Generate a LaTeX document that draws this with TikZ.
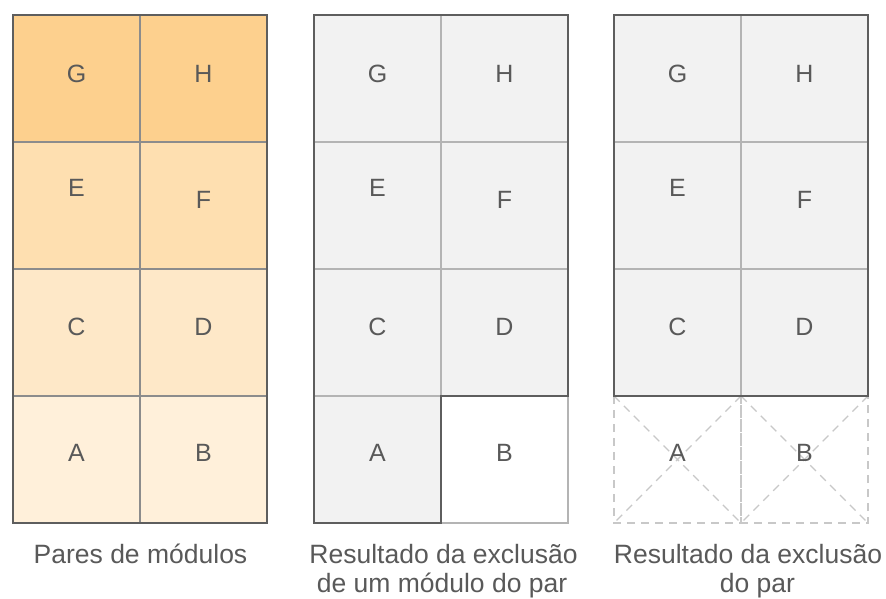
\documentclass[tikz,border=0pt]{standalone}
\usepackage{fontspec}
\setmainfont{Liberation Sans}
\definecolor{txt}{HTML}{595959}
\definecolor{outer}{HTML}{5E5E5E}
\definecolor{innerL}{HTML}{8C8C8C}
\definecolor{innerG}{HTML}{B4B4B4}
\definecolor{cellgray}{HTML}{F2F2F2}
\definecolor{dashg}{HTML}{C8C8C8}
\definecolor{oA}{HTML}{FDD08E}
\definecolor{oB}{HTML}{FEDFB0}
\definecolor{oC}{HTML}{FEE8C8}
\definecolor{oD}{HTML}{FFF0DA}
\tikzset{
  lbl/.style={inner sep=0pt, text=txt, font=\fontsize{25}{29}\selectfont},
  captxt/.style={inner sep=0pt, anchor=base, text=txt, font=\fontsize{26.5}{30}\selectfont},
  outerline/.style={draw=outer, line width=2pt, line join=miter},
  innerline/.style={draw=innerL, line width=1.5pt},
  grayline/.style={draw=innerG, line width=1.3pt},
  dashline/.style={draw=dashg, line width=1.2pt, dash pattern=on 8pt off 6pt}
}
\begin{document}
\begin{tikzpicture}[x=1pt,y=-1pt]
\useasboundingbox (0,0) rectangle (886,598);
\fill[white] (0,0) rectangle (886,598);
% ---------- left block ----------
\fill[oA] (13,15) rectangle (267,142);
\fill[oB] (13,142) rectangle (267,269);
\fill[oC] (13,269) rectangle (267,396);
\fill[oD] (13,396) rectangle (267,523);
\draw[innerline] (140,15) -- (140,523);
\draw[innerline] (13,142) -- (267,142);
\draw[innerline] (13,269) -- (267,269);
\draw[innerline] (13,396) -- (267,396);
\draw[outerline] (13,15) rectangle (267,523);
\node[lbl] (lG) at (76.5,74) {G};
\node[lbl] (lH) at (203.5,74) {H};
\node[lbl] (lE) at (76.5,188) {E};
\node[lbl] (lF) at (203.5,200) {F};
\node[lbl] (lC) at (76.5,327) {C};
\node[lbl] (lD) at (203.5,327) {D};
\node[lbl] (lA) at (76.5,453) {A};
\node[lbl] (lB) at (203.5,453) {B};
% ---------- middle block ----------
\fill[cellgray] (314,15) -- (568,15) -- (568,396) -- (441,396) -- (441,523) -- (314,523) -- cycle;
\draw[grayline] (441,15) -- (441,396);
\draw[grayline] (314,142) -- (568,142);
\draw[grayline] (314,269) -- (568,269);
\draw[grayline] (314,396) -- (441,396);
\draw[grayline] (441,523) -- (568,523) -- (568,396);
\draw[outerline] (314,15) -- (568,15) -- (568,396) -- (441,396) -- (441,523) -- (314,523) -- cycle;
\node[lbl] (mG) at (377.5,74) {G};
\node[lbl] (mH) at (504.5,74) {H};
\node[lbl] (mE) at (377.5,188) {E};
\node[lbl] (mF) at (504.5,200) {F};
\node[lbl] (mC) at (377.5,327) {C};
\node[lbl] (mD) at (504.5,327) {D};
\node[lbl] (mA) at (377.5,453) {A};
\node[lbl] (mB) at (504.5,453) {B};
% ---------- right block ----------
\draw[dashline] (614,396) rectangle (741,523);
\draw[dashline] (741,396) rectangle (868,523);
\draw[dashline] (614,396) -- (741,523);
\draw[dashline] (741,396) -- (614,523);
\draw[dashline] (741,396) -- (868,523);
\draw[dashline] (868,396) -- (741,523);
\fill[cellgray] (614,15) rectangle (868,396);
\draw[grayline] (741,15) -- (741,396);
\draw[grayline] (614,142) -- (868,142);
\draw[grayline] (614,269) -- (868,269);
\draw[outerline] (614,15) rectangle (868,396);
\node[lbl] (rG) at (677.5,74) {G};
\node[lbl] (rH) at (804.5,74) {H};
\node[lbl] (rE) at (677.5,188) {E};
\node[lbl] (rF) at (804.5,200) {F};
\node[lbl] (rC) at (677.5,327) {C};
\node[lbl] (rD) at (804.5,327) {D};
\node[lbl] (rA) at (677.5,453) {A};
\node[lbl] (rB) at (804.5,453) {B};
% ---------- captions ----------
\node[captxt] (cap1) at (140.5,563) {Pares de módulos};
\node[captxt] (cap2a) at (443.5,563) {Resultado da exclusão};
\node[captxt] (cap2b) at (442,592) {de um módulo do par};
\node[captxt] (cap3a) at (748,563) {Resultado da exclusão};
\node[captxt] (cap3b) at (757.5,592) {do par};
\end{tikzpicture}
\end{document}
